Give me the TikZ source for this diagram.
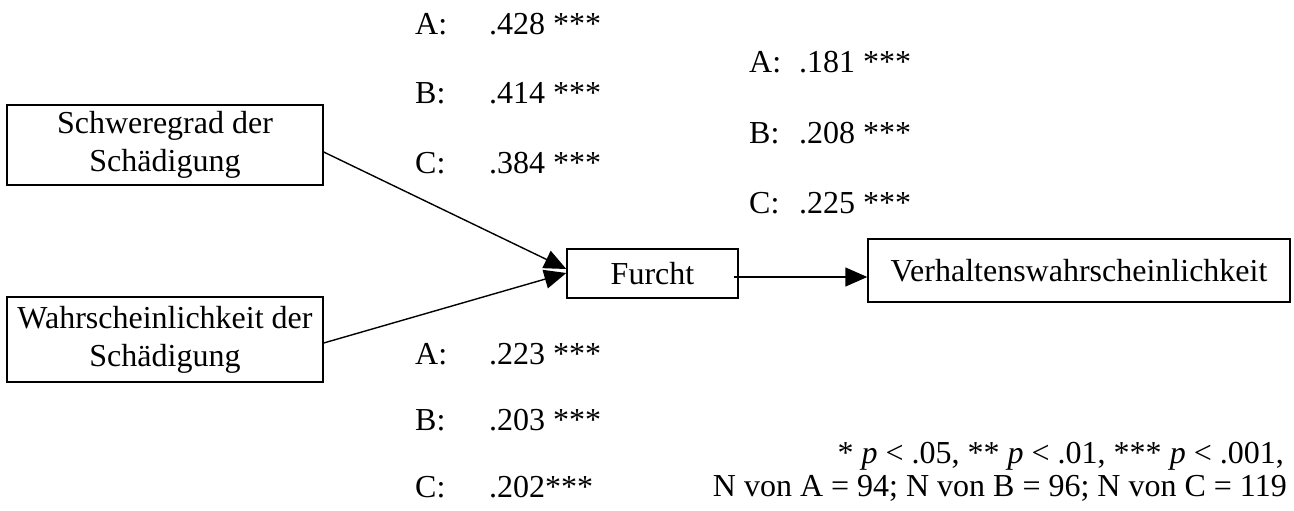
\documentclass[tikz,border=0pt]{standalone}
\usepackage{fontspec}
\setmainfont{Liberation Serif}
\usetikzlibrary{arrows.meta}

\begin{document}
\begin{tikzpicture}[
  x=1pt, y=-1pt,
  box/.style={draw, line width=1.4pt, align=center, inner sep=0pt, font=\fontsize{32}{38}\selectfont},
  arrow/.style={-{Triangle[length=22pt,width=19pt]}, line width=1.4pt},
  coef/.style={anchor=base west, inner sep=0pt, font=\fontsize{32}{38}\selectfont},
  note/.style={anchor=base east, inner sep=0pt, font=\fontsize{32}{32}\selectfont}
]
\useasboundingbox (0,0) rectangle (1294,511);

% Variables
\node[box, minimum width=316pt, minimum height=80pt] (schwere) at (165,145) {Schweregrad der\\Schädigung};
\node[box, minimum width=316pt, minimum height=85pt] (wahrsch) at (165,339.5) {Wahrscheinlichkeit der\\Schädigung};
\node[box, minimum width=171pt, minimum height=49pt] (furcht) at (652.5,273.5) {Furcht};
\node[box, minimum width=422pt, minimum height=63pt] (verhalten) at (1079,270.5) {Verhaltenswahrscheinlichkeit};

% Paths
\draw[arrow] ([yshift=-7pt]schwere.east) -- ([yshift=4.5pt]furcht.west);
\draw[arrow] ([yshift=-3.5pt]wahrsch.east) -- ([yshift=0.5pt]furcht.west);
\draw[arrow] ([xshift=-5pt,yshift=-3.5pt]furcht.east) -- ([yshift=-6.5pt]verhalten.west);

% Coefficients: Schweregrad -> Furcht
\node[coef] (sa) at (415,35) {\makebox[74pt][l]{A:}.428 ***};
\node[coef] (sb) at (415,103) {\makebox[74pt][l]{B:}.414 ***};
\node[coef] (sc) at (415,173) {\makebox[74pt][l]{C:}.384 ***};

% Coefficients: Furcht -> Verhalten
\node[coef] (fa) at (749,73) {\makebox[50pt][l]{A:}.181 ***};
\node[coef] (fb) at (749,143) {\makebox[50pt][l]{B:}.208 ***};
\node[coef] (fc) at (749,213) {\makebox[50pt][l]{C:}.225 ***};

% Coefficients: Wahrscheinlichkeit -> Furcht
\node[coef] (wa) at (415,364) {\makebox[74pt][l]{A:}.223 ***};
\node[coef] (wb) at (415,430) {\makebox[74pt][l]{B:}.203 ***};
\node[coef] (wc) at (415,497) {\makebox[74pt][l]{C:}.202***};

% Significance and sample sizes
\node[note] (note1) at (1284,463) {* \textit{p} < .05, ** \textit{p} < .01, *** \textit{p} < .001,};
\node[note] (note2) at (1287,496) {N von A = 94; N von B = 96; N von C = 119};
\end{tikzpicture}
\end{document}
